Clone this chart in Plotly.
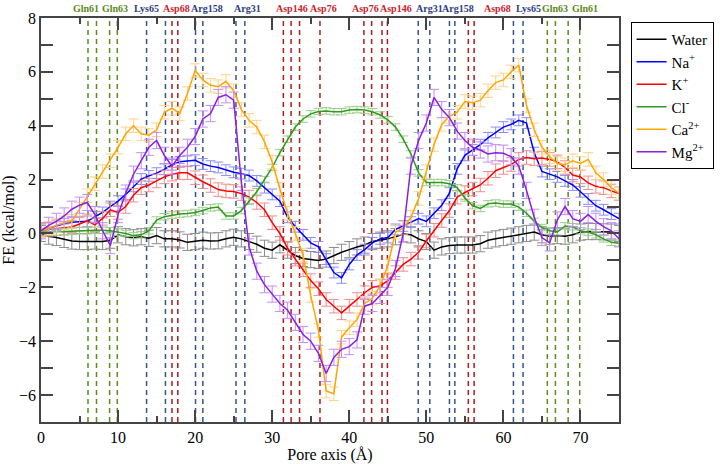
import plotly.graph_objects as go

# ---------------- data ----------------
pore_x = list(range(0, 76))

water = [0.0, -0.1, -0.15, -0.22, -0.28, -0.3, -0.3, -0.28, -0.3, -0.25,
         -0.05, -0.12, -0.16, -0.12, -0.18, -0.08, -0.2, -0.2, -0.24, -0.33,
         -0.3, -0.25, -0.28, -0.27, -0.2, -0.14, -0.2, -0.3, -0.4, -0.55,
         -0.62, -0.42, -0.62, -0.82, -0.93, -0.97, -1.0, -0.95, -0.82, -0.7,
         -0.6, -0.5, -0.43, -0.3, -0.25, -0.2, -0.12, -0.02, -0.05, -0.2,
         -0.3, -0.62, -0.5, -0.45, -0.43, -0.43, -0.43, -0.38, -0.25, -0.2,
         -0.15, -0.1, -0.05, 0.0, 0.05, -0.05, -0.1, -0.08, -0.1, -0.05,
         0.05, 0.07, 0.07, 0.06, 0.05, 0.0]

sodium = [0.12, 0.2, 0.3, 0.36, 0.42, 0.43, 0.45, 0.62, 0.78, 1.0,
          1.2, 1.45, 1.75, 2.02, 2.14, 2.24, 2.38, 2.55, 2.66, 2.68,
          2.72, 2.58, 2.5, 2.45, 2.35, 2.27, 2.22, 2.15, 1.95, 1.7,
          1.45, 1.2, 0.6, 0.25, -0.05, -0.35, -0.5, -0.95, -1.45, -1.65,
          -1.15, -0.8, -0.6, -0.35, -0.2, -0.15, 0.15, 0.28, 0.42, 0.55,
          0.45, 0.75, 1.05, 1.5, 2.4, 2.9, 3.1, 3.3, 3.55, 3.75,
          3.95, 4.05, 4.2, 4.1, 3.0, 2.3, 2.2, 2.1, 1.95, 1.8,
          1.55, 1.28, 1.03, 0.88, 0.72, 0.55]

potassium = [0.12, 0.15, 0.18, 0.2, 0.24, 0.35, 0.47, 0.32, 0.56, 0.88,
             0.78, 1.0, 1.42, 1.7, 1.8, 1.95, 2.1, 2.2, 2.25, 2.25,
             2.07, 1.92, 1.78, 1.63, 1.58, 1.56, 1.48, 1.35, 1.15, 0.88,
             0.4, 0.0, -0.55, -0.95, -1.35, -1.75, -2.05, -2.45, -2.7, -2.95,
             -2.7, -2.45, -2.2, -2.0, -1.95, -1.75, -1.45, -1.15, -0.95, -0.7,
             -0.28, 0.12, 0.48, 0.85, 1.35, 1.52, 1.65, 1.8, 2.05, 2.33,
             2.45, 2.56, 2.75, 2.82, 2.77, 2.8, 2.75, 2.66, 2.45, 2.17,
             2.1, 1.88, 1.75, 1.7, 1.58, 1.48]

chloride = [0.05, 0.05, 0.05, 0.06, 0.08, 0.1, 0.1, 0.12, 0.12, 0.1,
            0.05, 0.0, -0.08, -0.05, 0.1, 0.5, 0.62, 0.68, 0.72, 0.74,
            0.78, 0.85, 0.95, 0.98, 0.65, 0.65, 0.85, 1.2, 1.55, 2.0,
            2.45, 3.0, 3.5, 3.95, 4.25, 4.44, 4.53, 4.55, 4.52, 4.52,
            4.58, 4.6, 4.58, 4.52, 4.4, 4.22, 3.95, 3.5, 2.95, 2.25,
            1.89, 1.89, 1.89, 1.85, 1.7, 1.32, 1.03, 0.93, 1.1, 1.13,
            1.09, 1.09, 0.98, 0.75, 0.45, 0.22, 0.1, 0.06, 0.28, 0.25,
            0.1, 0.05, -0.05, -0.2, -0.33, -0.36]

calcium = [0.1, 0.2, 0.3, 0.4, 0.45, 0.9, 1.4, 1.85, 2.3, 2.7,
           3.2, 3.7, 4.0, 3.7, 3.65, 3.85, 4.5, 4.65, 4.45, 5.2,
           6.05, 5.7, 5.5, 5.45, 5.65, 5.3, 4.6, 4.2, 3.95, 3.4,
           2.65, 1.65, 0.75, 0.0, -0.8, -2.3, -3.6, -5.85, -5.95, -3.85,
           -3.5, -3.2, -2.6, -2.4, -1.95, -1.2, 0.05, 0.2, 0.6, 1.3,
           2.3, 3.3, 4.05, 4.35, 4.5, 4.9, 4.85, 4.95, 5.3, 5.6,
           5.7, 6.0, 6.25, 4.75, 3.85, 3.2, 2.85, 2.6, 2.55, 2.7,
           2.6, 2.75, 2.25, 2.0, 1.7, 1.5]

magnesium = [0.1, 0.3, 0.45, 0.65, 0.9, 1.05, 1.15, 0.7, 0.1, -0.45,
             0.7, 1.5, 2.2, 2.7, 3.2, 3.45, 2.9, 2.5, 2.9, 3.2,
             3.6, 4.25, 4.45, 5.05, 5.15, 4.95, 1.9, -0.5, -1.4, -1.9,
             -2.25, -2.6, -2.85, -3.3, -3.75, -4.0, -4.45, -5.2, -4.6, -4.3,
             -4.2, -3.95, -2.7, -2.6, -2.3, -2.0, -1.3, 0.0, 2.5, 3.45,
             4.1, 5.05, 4.6, 4.3, 3.8, 3.45, 3.2, 3.1, 2.95, 3.0,
             2.98, 2.85, 2.5, 1.6, 0.6, -0.15, -0.35, 0.5, 1.0, 0.55,
             0.45, 0.7, 0.45, 0.25, 0.1, -0.2]

# error-bar half widths (kcal/mol)
err_water = 0.3
err_sodium = 0.2
err_potassium = 0.25
err_chloride = 0.12
err_calcium = 0.25
err_magnesium = 0.3

series_names = ["Water", "Na<sup>+</sup>", "K<sup>+</sup>", "Cl<sup>-</sup>",
                "Ca<sup>2+</sup>", "Mg<sup>2+</sup>"]
series_values = [water, sodium, potassium, chloride, calcium, magnesium]
series_errors = [err_water, err_sodium, err_potassium, err_chloride, err_calcium, err_magnesium]
line_colors = ["#000000", "#0000ff", "#ff0000", "#2e9a1e", "#ffa500", "#8a1fe0"]
err_colors = ["#8c8c8c", "#8c8cff", "#f08c8c", "#9ccf8a", "#ffd38a", "#c68cff"]

# residue marker lines (Å)
residue_x = [6.1, 7.2, 8.9, 9.9,
             13.7, 16.15, 17.0, 17.75, 20.05, 21.0, 25.3, 26.45,
             31.45, 32.45, 33.55, 36.2,
             41.9, 42.9, 44.25, 44.95,
             48.95, 50.45, 53.0, 53.7, 55.45, 56.2, 61.3, 62.55,
             65.7, 66.75, 68.4, 69.9]
residue_kind = ["Gln", "Gln", "Gln", "Gln",
                "Lys", "Arg", "Asp", "Asp", "Arg", "Arg", "Arg", "Arg",
                "Asp", "Asp", "Asp", "Asp",
                "Asp", "Asp", "Asp", "Asp",
                "Arg", "Arg", "Arg", "Arg", "Asp", "Asp", "Lys", "Arg",
                "Gln", "Gln", "Gln", "Gln"]

label_text = ["Gln61", "Gln63", "Lys65", "Asp68", "Arg158", "Arg31", "Asp146", "Asp76",
              "Asp76", "Asp146", "Arg31", "Arg158", "Asp68", "Lys65", "Gln63", "Gln61"]
label_x = [5.85, 9.55, 13.7, 17.6, 21.6, 26.8, 32.6, 36.65,
           42.1, 46.0, 50.4, 54.05, 59.2, 63.25, 66.75, 70.65]

kind_line_color = {"Gln": "#5f8a1f", "Lys": "#34558c", "Arg": "#34558c", "Asp": "#b01c1c"}
kind_text_color = {"Gln": "#5b8a1a", "Lys": "#2b3c82", "Arg": "#2b3c82", "Asp": "#c8232a"}

FONT = "Liberation Serif"
AX = "#444444"

fig = go.Figure()

for name, vals, err, lc, ec in zip(series_names, series_values, series_errors,
                                   line_colors, err_colors):
    fig.add_trace(go.Scatter(
        x=pore_x, y=vals, mode="lines", name=name,
        line=dict(color=lc, width=1.5),
        error_y=dict(type="constant", value=err, color=ec, thickness=1, width=5),
    ))

shapes = []
for rx, kind in zip(residue_x, residue_kind):
    shapes.append(dict(type="line", xref="x", yref="paper", x0=rx, x1=rx, y0=0, y1=1,
                       line=dict(color=kind_line_color[kind], width=1.5, dash="5px,4px"),
                       layer="below"))

annotations = []
for txt, lx in zip(label_text, label_x):
    annotations.append(dict(x=lx, y=1, xref="x", yref="paper", yanchor="bottom", yshift=2,
                            text="<b>%s</b>" % txt, showarrow=False,
                            font=dict(family=FONT, size=10,
                                      color=kind_text_color[txt[:3]])))

fig.update_layout(
    width=720, height=464,
    margin=dict(l=41, r=101, t=18, b=42, autoexpand=False),
    paper_bgcolor="white", plot_bgcolor="white",
    font=dict(family=FONT, size=16, color="black"),
    shapes=shapes, annotations=annotations,
    showlegend=True,
    legend=dict(x=1.02, y=0.99, xanchor="left", yanchor="top",
                bordercolor="black", borderwidth=1, bgcolor="white",
                font=dict(family=FONT, size=15), itemwidth=30, tracegroupgap=0),
)

fig.update_xaxes(
    range=[0, 75], tick0=0, dtick=10, ticks="inside", ticklen=12, tickwidth=1.5,
    tickcolor=AX, showline=True, linecolor=AX, linewidth=1.5, mirror="allticks",
    showgrid=False, zeroline=False, automargin=False,
    minor=dict(dtick=5, tick0=0, ticks="inside", ticklen=6, tickwidth=1.5, tickcolor=AX,
               showgrid=False),
    tickfont=dict(family=FONT, size=16),
    title=dict(text="Pore axis (Å)", font=dict(family=FONT, size=16), standoff=5),
)
fig.update_yaxes(
    range=[-7, 8], tick0=0, dtick=2, ticks="inside", ticklen=12, tickwidth=1.5,
    tickcolor=AX, showline=True, linecolor=AX, linewidth=1.5, mirror="allticks",
    showgrid=False, zeroline=False, automargin=False,
    minor=dict(dtick=1, tick0=0, ticks="inside", ticklen=12, tickwidth=1.5, tickcolor=AX,
               showgrid=False),
    tickfont=dict(family=FONT, size=16),
    title=dict(text="FE (kcal/mol)", font=dict(family=FONT, size=16), standoff=0),
)

# remove the browser's default 8px body margin so the figure fills the window
fig.write_html("out.html", config={"displayModeBar": False},
               post_script="document.body.style.margin='0px';")
